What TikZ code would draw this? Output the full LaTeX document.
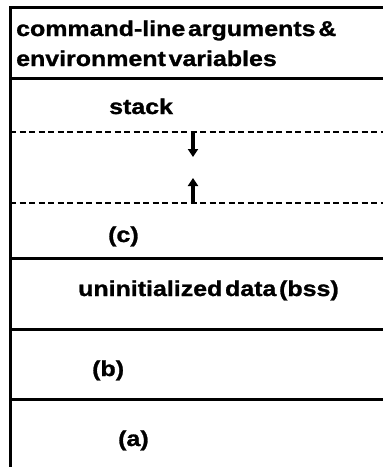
\documentclass[tikz,border=0pt]{standalone}
\usepackage{fontspec}
\setmainfont{Liberation Sans}[FakeStretch=1.16,WordSpace=0.4,BoldFeatures={FakeBold=1.2}]
\usetikzlibrary{arrows.meta}
\tikzset{
  lbl/.style={inner sep=0pt,anchor=base west,font=\bfseries\fontsize{21.5}{30}\selectfont},
  solidline/.style={line width=3pt,black},
  dashline/.style={line width=1.8pt,black,dash pattern=on 6pt off 3.5pt},
  growarrow/.style={line width=3.2pt,-{Triangle[length=8pt,width=10pt]}}
}
\begin{document}
\begin{tikzpicture}[x=1pt,y=-1pt]
\useasboundingbox (0,0) rectangle (383,467);
% frame and separators
\draw[solidline] (383,7) -- (10,7) -- (10,467);
\draw[solidline] (10,78) -- (383,78);
\draw[solidline] (10,258) -- (383,258);
\draw[solidline] (10,329) -- (383,329);
\draw[solidline] (10,399) -- (383,399);
\draw[dashline] (10,132) -- (383,132);
\draw[dashline] (10,203) -- (383,203);
% arrows
\coordinate (d1) at (193,132);
\coordinate (d2) at (193,157);
\coordinate (u1) at (193,203);
\coordinate (u2) at (193,178);
\draw[growarrow] (d1) -- (d2);
\draw[growarrow] (u1) -- (u2);
% labels
\node[lbl] (env1) at (16,36) {command-line arguments \&};
\node[lbl] (env2) at (16,66) {environment variables};
\node[lbl] (stack) at (109,114) {stack};
\node[lbl] (c) at (108,242) {(c)};
\node[lbl] (bss) at (78,296) {uninitialized data (bss)};
\node[lbl] (b) at (92,376) {(b)};
\node[lbl] (a) at (118,446) {(a)};
\end{tikzpicture}
\end{document}
